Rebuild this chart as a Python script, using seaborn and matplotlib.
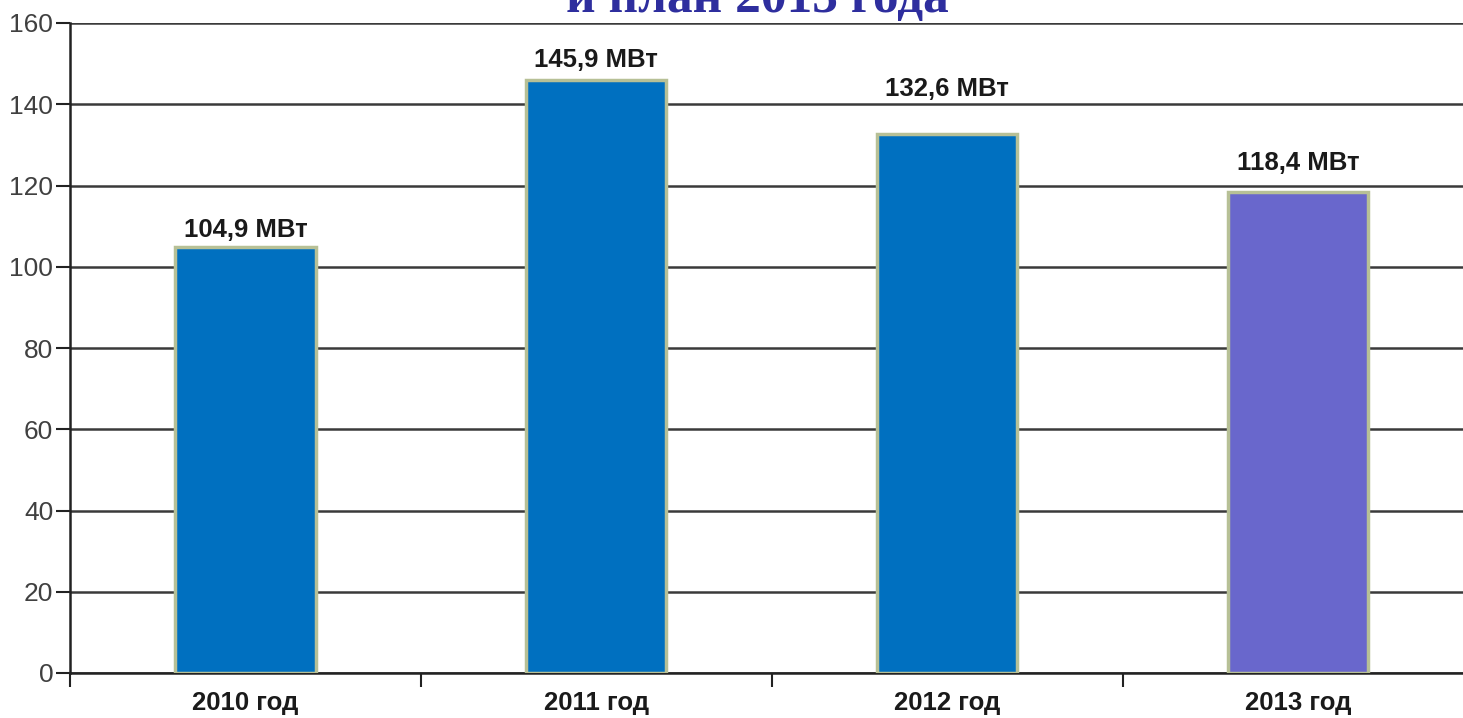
import matplotlib
matplotlib.use("Agg")
import matplotlib.pyplot as plt
import seaborn as sns
import pandas as pd

# data
years = ["2010 год", "2011 год", "2012 год", "2013 год"]
power = [104.9, 145.9, 132.6, 118.4]
labels = ["104,9 МВт", "145,9 МВт", "132,6 МВт", "118,4 МВт"]
bar_colors = ["#0070C0", "#0070C0", "#0070C0", "#6967CC"]

# how far above each bar its label sits (the original places them by hand)
label_gap = [2.4, 3.3, 9.4, 5.4]

df = pd.DataFrame({"year": years, "power": power})

sns.set_style("white")
plt.rcParams["font.family"] = ["Liberation Sans", "DejaVu Sans"]

fig = plt.figure(figsize=(14.63, 7.18), dpi=100)
ax = fig.add_axes([70 / 1463, 45 / 718, 1 - 70 / 1463, 650 / 718])

sns.barplot(data=df, x="year", y="power", hue="year", palette=bar_colors,
            legend=False, width=0.4, saturation=1, edgecolor="#B7C096",
            linewidth=2.5, ax=ax, zorder=3)

ax.set_ylim(0, 160)
ax.set_xlim(-0.5, 3.47)
ax.set_yticks(range(0, 161, 20))
ax.yaxis.grid(True, color="#3a3a3a", linewidth=1.8, zorder=0)
ax.set_axisbelow(True)

for i, lab in enumerate(labels):
    ax.text(i, power[i] + label_gap[i], lab, ha="center", va="baseline",
            fontsize=18.5, fontweight="bold", color="#1a1a1a")

ax.set_xlabel("")
ax.set_ylabel("")
ax.tick_params(axis="y", labelsize=19, labelcolor="#404040", length=10,
               width=1.5, color="#222222", left=True, pad=2)
ax.tick_params(axis="x", which="major", length=0, labelsize=18.5, pad=13)
for t in ax.get_xticklabels():
    t.set_fontweight("bold")
    t.set_color("#1a1a1a")
ax.set_xticks([-0.5, 0.5, 1.5, 2.5], minor=True)
ax.tick_params(axis="x", which="minor", length=10, width=1.5,
               color="#222222", bottom=True)

for side in ["top", "right"]:
    ax.spines[side].set_visible(False)
ax.spines["left"].set_color("#222222")
ax.spines["left"].set_linewidth(1.8)
ax.spines["bottom"].set_color("#222222")
ax.spines["bottom"].set_linewidth(1.8)

fig.text(757 / 1463, 1 - 12 / 718, "и план 2013 года", ha="center",
         va="baseline", fontsize=37, fontweight="bold", color="#2E2E9E",
         family=["Liberation Serif", "DejaVu Serif"])

fig.savefig("out.png", dpi=100)
